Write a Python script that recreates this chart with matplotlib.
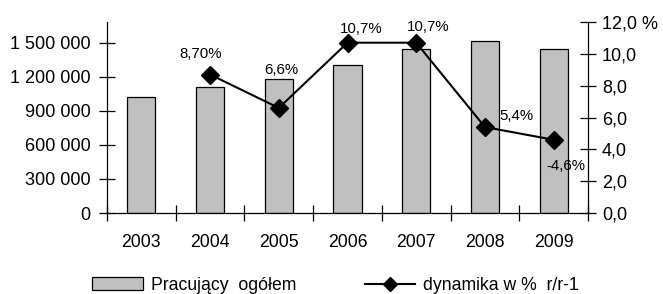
import numpy as np
import matplotlib.pyplot as plt
from matplotlib.ticker import FuncFormatter

plt.rcParams['font.family'] = ['Liberation Sans', 'DejaVu Sans']

# Data
years = ['2003', '2004', '2005', '2006', '2007', '2008', '2009']
employed = [1021000, 1109000, 1180000, 1303000, 1444000, 1515000, 1444000]
dyn_years = ['2004', '2005', '2006', '2007', '2008', '2009']
dynamics = [8.7, 6.6, 10.7, 10.7, 5.4, 4.6]
dyn_labels = ['8,70%', '6,6%', '10,7%', '10,7%', '5,4%', '-4,6%']

fig = plt.figure(figsize=(6.63, 2.94), dpi=100)
ax = fig.add_axes([107 / 663, 81 / 294, 481 / 663, 191 / 294])

x = np.arange(len(years))
ax.bar(x, employed, width=0.41, color='#C0C0C0', edgecolor='black', linewidth=0.9,
       label='Pracujący  ogółem', zorder=2)
ax.set_xlim(-0.5, len(years) - 0.5)
ax.set_ylim(0, 1685000)
ax.set_yticks([0, 300000, 600000, 900000, 1200000, 1500000])
ax.yaxis.set_major_formatter(FuncFormatter(lambda v, p: f'{int(v):,}'.replace(',', ' ')))
ax.set_xticks(x)
ax.set_xticklabels(years)
ax.set_xticks(np.arange(len(years) + 1) - 0.5, minor=True)
ax.tick_params(axis='x', which='major', length=0, pad=15, labelsize=12.7)
ax.tick_params(axis='x', which='minor', direction='inout', length=12, width=0.9)
ax.tick_params(axis='y', direction='inout', length=12, width=0.9, labelsize=13, pad=6)
ax.spines['top'].set_visible(False)
ax.spines['right'].set_visible(False)
for s in ['left', 'bottom']:
    ax.spines[s].set_linewidth(0.9)

ax2 = ax.twinx()
dx = [years.index(y) for y in dyn_years]
ax2.plot(dx, dynamics, color='black', linewidth=1.5, marker='D', markersize=9.5,
         label='dynamika w %  r/r-1', zorder=3)
ax2.set_ylim(0, 12)
ax2.set_yticks(np.arange(0, 13, 2))
ax2.yaxis.set_major_formatter(FuncFormatter(
    lambda v, p: f'{v:.1f}'.replace('.', ',') + (' %' if v >= 12 else '')))
ax2.tick_params(axis='y', direction='inout', length=12, width=0.9, labelsize=13, pad=4)
ax2.spines['top'].set_visible(False)
ax2.spines['left'].set_visible(False)
ax2.spines['bottom'].set_visible(False)
ax2.spines['right'].set_linewidth(0.9)

offsets = [(-6.5, 15), (2, 27), (10, 9.5), (8.5, 11.5), (23, 8), (8.5, -19)]
for xi, yi, lab, off in zip(dx, dynamics, dyn_labels, offsets):
    ax2.annotate(lab, (xi, yi), xytext=off, textcoords='offset points',
                 ha='center', va='center', fontsize=10.8)

h1, l1 = ax.get_legend_handles_labels()
h2, l2 = ax2.get_legend_handles_labels()
fig.legend(h1 + h2, l1 + l2, loc='center', bbox_to_anchor=(0.506, 0.03), ncol=2,
           frameon=False, fontsize=12.7, columnspacing=3.9, handlelength=2.85,
           handletextpad=0.45, markerscale=0.8)

plt.savefig('out.png', dpi=100)
